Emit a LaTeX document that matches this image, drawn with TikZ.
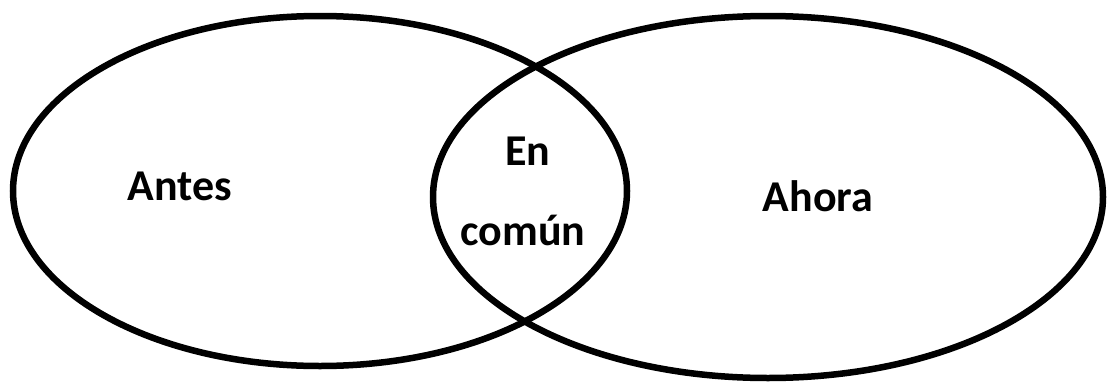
\documentclass[tikz,border=0pt]{standalone}
\usepackage{fontspec}
\setmainfont{Carlito}
\usepackage{tikz}
\tikzset{every node/.style={font=\fontsize{44}{52}\selectfont\bfseries},
  conjunto/.style={line width=6.5pt},
  etiqueta/.style={anchor=base,inner sep=0pt}}

\begin{document}
\begin{tikzpicture}[x=1pt,y=-1pt]
  \useasboundingbox (0,0) rectangle (1109,383);
  % los dos conjuntos
  \draw[conjunto] (320,191) ellipse [x radius=307, y radius=175];
  \draw[conjunto] (768,197) ellipse [x radius=335, y radius=181];
  % textos
  \node[etiqueta] (antes) at (180,200) {Antes};
  \node[etiqueta] (en) at (528,165) {En};
  \node[etiqueta] (comun) at (523,245) {común};
  \node[etiqueta] (ahora) at (818,211) {Ahora};
\end{tikzpicture}
\end{document}
